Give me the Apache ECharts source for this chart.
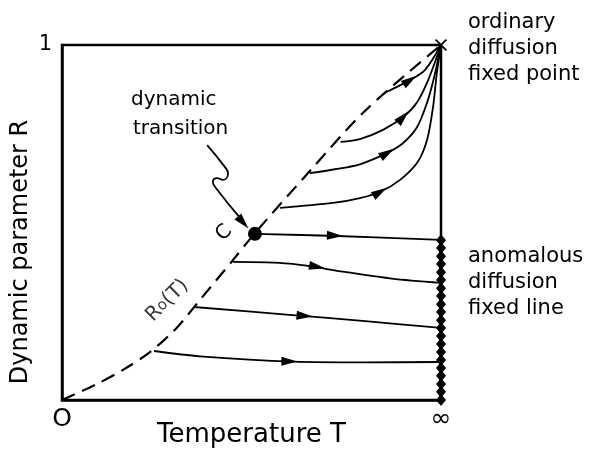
<!DOCTYPE html>
<html>
<head>
<meta charset="utf-8">
<script src="https://cdn.jsdelivr.net/npm/echarts@6/dist/echarts.min.js"></script>
<style>
  html, body { margin: 0; padding: 0; background: #fff; }
  #chart { width: 590px; height: 449px; }
</style>
</head>
<body>
<div id="chart"></div>
<script>
// ----------------------
// DATA (T scaled 0..1 where 1 = infinity, R from 0 to 1)
// ----------------------
const criticalLine = [
  [0, 0], [0.092, 0.045], [0.161, 0.085], [0.232, 0.135], [0.3, 0.2], [0.364, 0.282],
  [0.451, 0.394], [0.509, 0.47], [0.654, 0.645], [0.8, 0.815], [1, 1]
];

// flows going to the anomalous fixed line (T -> infinity, R stays)
const flowC = [[0.509, 0.468], [0.726, 0.462], [1, 0.451]];
const flowLow1 = [[0.451, 0.389], [0.6, 0.384], [0.75, 0.36], [0.87, 0.342], [1, 0.33]];
const flowLow2 = [[0.348, 0.262], [0.6, 0.24], [0.8, 0.222], [1, 0.203]];
const flowLow3 = [[0.243, 0.138], [0.364, 0.123], [0.61, 0.108], [0.8, 0.106], [1, 0.107]];

// flows going to the ordinary fixed point (1, 1)
const flowHigh1 = [
  [0.575, 0.541], [0.715, 0.555], [0.786, 0.569], [0.839, 0.586], [0.892, 0.62],
  [0.937, 0.668], [0.963, 0.732], [0.979, 0.825], [0.989, 0.921], [1, 1]
];
const flowHigh2 = [
  [0.654, 0.639], [0.72, 0.65], [0.786, 0.664], [0.858, 0.696], [0.9, 0.724],
  [0.937, 0.769], [0.963, 0.837], [0.982, 0.91], [1, 1]
];
const flowHigh3 = [
  [0.735, 0.727], [0.786, 0.735], [0.847, 0.761], [0.9, 0.797], [0.937, 0.839],
  [0.966, 0.901], [1, 1]
];
const flowHigh4 = [[0.855, 0.867], [0.918, 0.901], [0.958, 0.93], [1, 1]];

// arrow heads: [x, y, towardX, towardY]
const arrows = [
  [0.72, 0.463, 0.85, 0.458],
  [0.673, 0.375, 0.75, 0.36],
  [0.64, 0.237, 0.8, 0.222],
  [0.6, 0.109, 0.8, 0.106],
  [0.839, 0.586, 0.892, 0.62],
  [0.858, 0.696, 0.9, 0.724],
  [0.9, 0.797, 0.937, 0.839],
  [0.918, 0.901, 0.958, 0.93]
];

// pointer from the "dynamic transition" label to C
const pointer = [
  [0.383, 0.718], [0.43, 0.656], [0.438, 0.639], [0.425, 0.62], [0.409, 0.625],
  [0.398, 0.614], [0.404, 0.6], [0.472, 0.51]
];
const pointerTip = [[0.478, 0.5, 0.493, 0.482]];

const criticalPoint = [[0.509, 0.468]];
const ordinaryPoint = [[1, 1]];
const labelR0 = [[0.278, 0.28]];

// anomalous fixed line, R values of the chain of diamonds at T = infinity
const fixedLine = [
  0.45, 0.428, 0.405, 0.383, 0.36, 0.338, 0.315, 0.293, 0.27, 0.248, 0.225,
  0.203, 0.18, 0.158, 0.135, 0.113, 0.09, 0.068, 0.045, 0.023, 0
];

const xTicks = { 0: "O", 1: "\u221e" };
const yTicks = { 0: "", 1: "1" };

// ----------------------
// CHART
// ----------------------
const chart = echarts.init(document.getElementById("chart"));
const FONT = "DejaVu Sans";

function flow(data, extra) {
  return Object.assign({
    type: "line",
    data: data,
    smooth: 0.3,
    symbol: "none",
    silent: true,
    lineStyle: { color: "#000", width: 1.8 }
  }, extra || {});
}

function renderArrow(params, api) {
  const p = api.coord([api.value(0), api.value(1)]);
  const q = api.coord([api.value(2), api.value(3)]);
  const a = Math.atan2(q[1] - p[1], q[0] - p[0]);
  const L = 16, W = 4.5;
  const c = Math.cos(a), s = Math.sin(a);
  const tip = [p[0] + c * L / 2, p[1] + s * L / 2];
  const back = [p[0] - c * L / 2, p[1] - s * L / 2];
  return {
    type: "polygon",
    shape: {
      points: [tip, [back[0] - s * W, back[1] + c * W], [back[0] + s * W, back[1] - c * W]]
    },
    style: { fill: "#000" }
  };
}

const solid = { color: "#000", opacity: 1 };

chart.setOption({
  animation: false,
  grid: {
    left: 62, top: 45, right: 149, bottom: 49,
    outerBoundsMode: "none",
    containLabel: false,
    show: true, borderColor: "#000", borderWidth: 2.5
  },
  xAxis: {
    type: "value", min: 0, max: 1, interval: 1,
    axisLine: { lineStyle: { color: "#000", width: 2.5 } },
    axisTick: { show: false },
    splitLine: { show: false },
    axisLabel: {
      formatter: (v) => xTicks[v],
      color: "#000", fontFamily: FONT, fontSize: 25, margin: 7
    },
    name: "Temperature T",
    nameLocation: "middle",
    nameGap: 22,
    nameMoveOverlap: false,
    nameTextStyle: { color: "#000", fontFamily: FONT, fontSize: 26 }
  },
  yAxis: {
    type: "value", min: 0, max: 1, interval: 1,
    axisLine: { lineStyle: { color: "#000", width: 2.5 } },
    axisTick: { show: false },
    splitLine: { show: false },
    axisLabel: {
      formatter: (v) => yTicks[v],
      color: "#000", fontFamily: FONT, fontSize: 21, margin: 10
    }
  },
  graphic: [
    {
      type: "text", x: 21, y: 252, rotation: Math.PI / 2,
      style: {
        text: "Dynamic parameter R", fill: "#000", font: "24px " + FONT,
        align: "center", verticalAlign: "middle"
      }
    },
    {
      type: "text", x: 131, y: 90,
      style: { text: "dynamic", fill: "#000", font: "20px " + FONT }
    },
    {
      type: "text", x: 133, y: 119,
      style: { text: "transition", fill: "#000", font: "20px " + FONT }
    },
    {
      type: "text", x: 468, y: 10,
      style: {
        text: "ordinary\ndiffusion\nfixed point", fill: "#000",
        font: "21px " + FONT, lineHeight: 26
      }
    },
    {
      type: "text", x: 468, y: 244,
      style: {
        text: "anomalous\ndiffusion\nfixed line", fill: "#000",
        font: "21px " + FONT, lineHeight: 26
      }
    }
  ],
  series: [
    flow(criticalLine, { lineStyle: { color: "#000", width: 2.2, type: [14, 8] } }),
    flow(flowC),
    flow(flowLow1),
    flow(flowLow2),
    flow(flowLow3),
    flow(flowHigh1),
    flow(flowHigh2),
    flow(flowHigh3),
    flow(flowHigh4),
    flow(pointer, { smooth: 0.5 }),
    {
      type: "custom",
      renderItem: renderArrow,
      data: arrows.concat(pointerTip),
      silent: true,
      clip: false
    },
    {
      type: "scatter",
      data: fixedLine.map((r) => [1, r]),
      symbol: "diamond",
      symbolSize: [10, 12],
      itemStyle: solid,
      silent: true,
      clip: false
    },
    {
      type: "scatter",
      data: ordinaryPoint,
      symbol: "path://M0,1L1,0L5,4L9,0L10,1L6,5L10,9L9,10L5,6L1,10L0,9L4,5Z",
      symbolSize: 12,
      itemStyle: solid,
      silent: true,
      clip: false
    },
    {
      type: "scatter",
      data: criticalPoint,
      symbol: "circle",
      symbolSize: 14,
      itemStyle: solid,
      silent: true,
      label: {
        show: true,
        formatter: "C",
        position: [-36, 4],
        rotate: 45,
        color: "#000",
        fontFamily: FONT,
        fontSize: 20
      }
    },
    {
      type: "scatter",
      data: labelR0,
      symbolSize: 1,
      itemStyle: { color: "rgba(0,0,0,0)" },
      silent: true,
      label: {
        show: true,
        formatter: "R{s|o}(T)",
        position: "inside",
        rotate: 45,
        color: "#000",
        fontFamily: FONT,
        fontSize: 20,
        rich: { s: { color: "#000", fontFamily: FONT, fontSize: 15 } }
      }
    }
  ]
});
</script>
</body>
</html>
